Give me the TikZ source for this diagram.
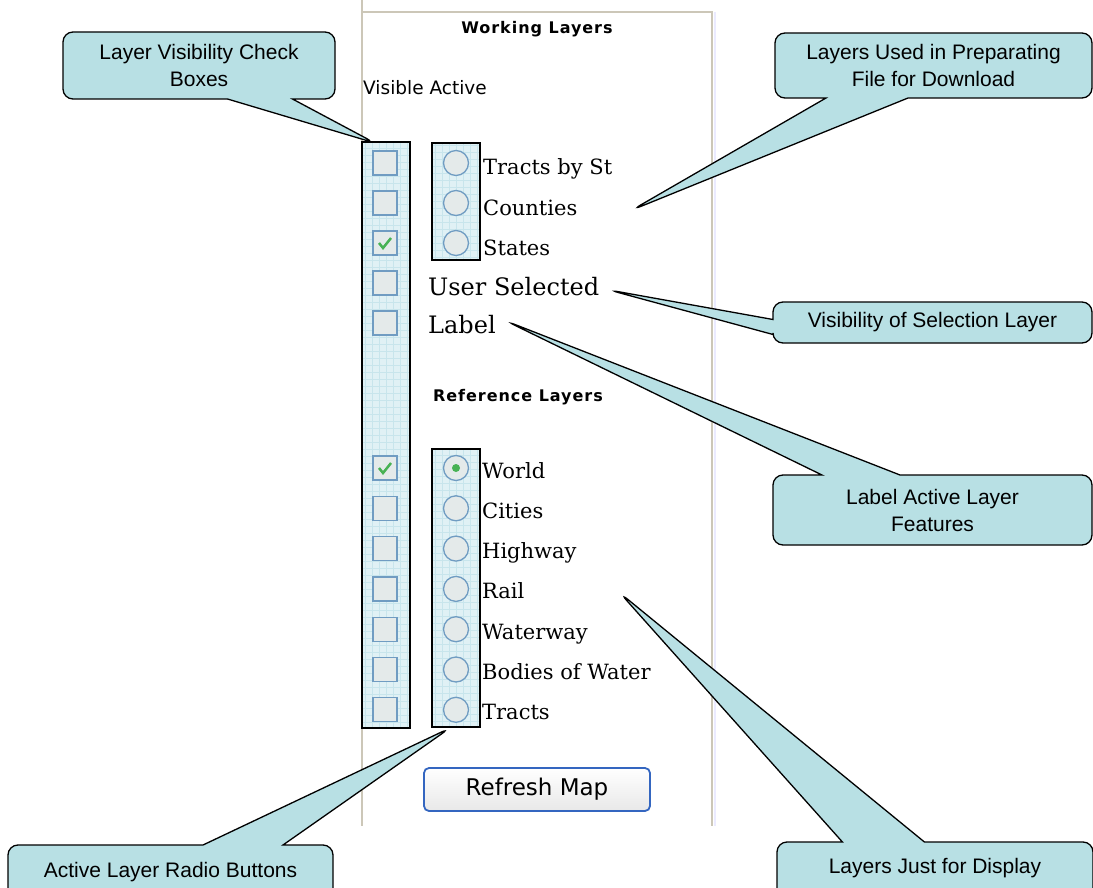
\documentclass[tikz,border=0pt]{standalone}
\usepackage{fontspec}
\usetikzlibrary{shapes.callouts, positioning}

\newfontfamily\notefont{Liberation Sans}
\newfontfamily\formfont{DejaVu Serif}
\newfontfamily\uifont{DejaVu Sans}
\newfontfamily\headfont[LetterSpace=6]{DejaVu Sans Bold}

\definecolor{notefill}{RGB}{184,224,228}
\definecolor{colfill}{RGB}{224,241,245}
\definecolor{colgrid}{RGB}{200,229,236}
\definecolor{boxline}{RGB}{112,156,194}
\definecolor{boxfill}{RGB}{228,234,234}
\definecolor{tickgreen}{RGB}{72,178,84}
\definecolor{panelline}{RGB}{204,199,184}
\definecolor{btnline}{RGB}{52,102,192}

\begin{document}
\begin{tikzpicture}[x=1pt,y=-1pt]
    \tikzstyle{bubble} = [rectangle callout,draw=black,line width=1.3pt,fill=notefill,rounded corners=10pt,inner sep=0pt,align=center,font=\notefont\fontsize{21}{27}\selectfont]
    \tikzstyle{column} = [rectangle,draw=black,line width=1.6pt,fill=colfill,inner sep=0pt,
        path picture={\draw[colgrid,line width=0.6pt,step=7pt] (path picture bounding box.south west) grid (path picture bounding box.north east);}]
    \tikzstyle{chkbox} = [rectangle,draw=boxline,line width=1.3pt,fill=boxfill,minimum size=24pt,inner sep=0pt]
    \tikzstyle{radio} = [circle,draw=boxline,line width=1.3pt,fill=boxfill,minimum size=25pt,inner sep=0pt]
    \tikzstyle{item} = [anchor=base west,inner sep=0pt,font=\formfont\fontsize{21}{25}\selectfont]

    \useasboundingbox (0,0) rectangle (1093,888);

    % panel frame
    \draw [panelline,line width=2pt] (362,0) -- (362,826);
    \draw [panelline,line width=2pt] (362,12) -- (712,12) -- (712,826);
    \draw [blue!8,line width=2pt] (715,12) -- (715,826);

    \node (working) [font=\headfont\fontsize{16}{19}\selectfont] at (537,29) {Working Layers};
    \node (visact) [anchor=west,inner sep=0pt,font=\uifont\fontsize{18.5}{22}\selectfont] at (363,88) {Visible Active};

    \node (chkcol) [column,minimum width=48pt,minimum height=586pt] at (386,435) {};
    \node (radtop) [column,minimum width=48pt,minimum height=117pt] at (456,201.5) {};
    \node (radbot) [column,minimum width=48pt,minimum height=278pt] at (456,588) {};

    \foreach \y/\n/\t in {163/1/Tracts by St,203/2/Counties,243/3/States}{
        \node (rad\n) [radio] at (456,\y) {};
        \node (lay\n) [item] at (483,\y+12) {\t};
    }
    \foreach \y/\n in {163/1,203/2,243/3,283/4,323/5}
        \node (chk\n) [chkbox] at (385,\y) {};
    \draw [tickgreen,line width=2.5pt] ([shift={(-6,0)}]chk3.center) -- ++(4,5) -- ++(8,-10);

    \node (usersel) [item,font=\formfont\fontsize{24}{28}\selectfont] at (428,295) {User Selected};
    \node (label) [item,font=\formfont\fontsize{24}{28}\selectfont] at (428,333) {Label};

    \node (reference) [font=\headfont\fontsize{16}{19}\selectfont] at (518,397) {Reference Layers};

    \foreach \t [count=\i from 0] in {World,Cities,Highway,Rail,Waterway,Bodies of Water,Tracts}{
        \pgfmathsetmacro\yy{468+40.3*\i}
        \node (chkb\i) [chkbox] at (385,\yy) {};
        \node (radb\i) [radio] at (456,\yy) {};
        \node (ref\i) [item] at (482,\yy+10) {\t};
    }
    \draw [tickgreen,line width=2.5pt] ([shift={(-6,0)}]chkb0.center) -- ++(4,5) -- ++(8,-10);
    \fill [tickgreen] (radb0.center) circle (4);

    \node (refresh) [draw=btnline,line width=1.8pt,rounded corners=5pt,top color=white,bottom color=black!9,minimum width=226pt,minimum height=43pt,font=\uifont\fontsize{23}{27}\selectfont] at (537,789.5) {Refresh Map};

    % callouts
    \coordinate (tipchk) at (375,143);
    \coordinate (tipdl) at (632,210);
    \coordinate (tipsel) at (609,290);
    \coordinate (tiplbl) at (506,321);
    \coordinate (tiprad) at (450,728);
    \coordinate (tipdisp) at (620,593);

    \node (chknote) [bubble,minimum width=272pt,minimum height=67pt,callout absolute pointer={(tipchk)},callout pointer width=65pt] at (199,65.5) {Layer Visibility Check\\Boxes};
    \node (dlnote) [bubble,minimum width=317pt,minimum height=65pt,callout absolute pointer={(tipdl)},callout pointer width=82pt] at (933.5,65.5) {Layers Used in Preparating\\File for Download};
    \node (selnote) [bubble,minimum width=319pt,minimum height=41pt,callout absolute pointer={(tipsel)},callout pointer width=15pt] at (932.5,322.5) {Visibility of Selection Layer};
    \node (lblnote) [bubble,minimum width=319pt,minimum height=70pt,callout absolute pointer={(tiplbl)},callout pointer width=78pt] at (932.5,510) {Label Active Layer\\Features};
    \node (radnote) [bubble,minimum width=325pt,text height=32pt,text depth=63pt,callout absolute pointer={(tiprad)},callout pointer width=80pt] at (170.5,892.5) {Active Layer Radio Buttons};
    \node (dispnote) [bubble,minimum width=316pt,text height=31pt,text depth=67pt,callout absolute pointer={(tipdisp)},callout pointer width=82pt] at (935,891) {Layers Just for Display};
\end{tikzpicture}
\end{document}
